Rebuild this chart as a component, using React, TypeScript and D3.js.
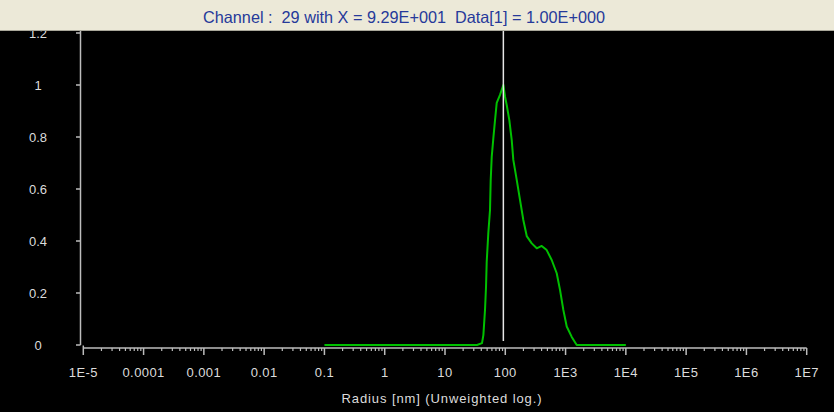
import React from "react";
import * as d3 from "d3";

// Size distribution: radius (nm) and normalised intensity
const radius = [0.1, 34.0, 41.1, 43.3, 46.1, 47.9, 49.2, 52.3, 55.8, 57.3, 59.6, 63.4, 67.6, 72.1, 81.8, 92.9, 99.1, 105.6, 116.7, 127.9, 135.9, 154.8, 175.5, 199.1, 226.8, 274.7, 332.5, 402, 486, 589, 713, 809, 918, 1045, 1265, 1531, 10000];
const intensity = [0, 0, 0.007, 0.038, 0.135, 0.223, 0.32, 0.431, 0.519, 0.635, 0.724, 0.796, 0.865, 0.931, 0.962, 1.0, 0.955, 0.923, 0.865, 0.788, 0.712, 0.635, 0.558, 0.481, 0.419, 0.391, 0.372, 0.381, 0.365, 0.327, 0.276, 0.212, 0.135, 0.071, 0.031, 0, 0];

const xTickValues = [1e-5, 1e-4, 1e-3, 1e-2, 1e-1, 1, 10, 100, 1e3, 1e4, 1e5, 1e6, 1e7];
const xTickLabels = ["1E-5", "0.0001", "0.001", "0.01", "0.1", "1", "10", "100", "1E3", "1E4", "1E5", "1E6", "1E7"];
const yTickValues = [0, 0.2, 0.4, 0.6, 0.8, 1, 1.2];
const yTickLabels = ["0", "0.2", "0.4", "0.6", "0.8", "1", "1.2"];

const cursorChannel = 29;
const cursorX = 92.9;
const cursorValue = 1.0;

const W = 834;
const H = 412;
const barH = 31;

export default function App() {
  const x = d3.scaleLog().domain([1e-5, 1e7]).range([83.3, 806.7]);
  const y = d3.scaleLinear().domain([0, 1.2]).range([345, 33]);

  const pts = radius.map((r, i) => [r, intensity[i]] as [number, number]);
  const line = d3
    .line<[number, number]>()
    .x((d) => x(d[0]))
    .y((d) => y(d[1]))(pts);

  const minor: number[] = [];
  for (let e = -5; e < 7; e++) {
    for (let k = 2; k <= 9; k++) minor.push(k * Math.pow(10, e));
  }

  const axisCol = "#bdbdbd";
  const textCol = "#dcdcdc";
  const font = "'Liberation Sans', Arial, sans-serif";
  const expFmt = (v: number) => {
    const e = Math.floor(Math.log10(v));
    const m = v / Math.pow(10, e);
    const sign = e < 0 ? "-" : "+";
    return `${m.toFixed(2)}E${sign}${String(Math.abs(e)).padStart(3, "0")}`;
  };
  const title = `Channel :  ${cursorChannel} with X = ${expFmt(cursorX)}  Data[1] = ${expFmt(cursorValue)}`;

  return (
    <svg
      width={W}
      height={H}
      style={{ position: "absolute", left: 0, top: 0, display: "block" }}
      fontFamily={font}
    >
      <rect x={0} y={0} width={W} height={H} fill="#000" />

      {/* y axis */}
      <line x1={80.5} x2={80.5} y1={barH} y2={y(0)} stroke={axisCol} strokeWidth={1.5} />
      {yTickValues.map((v, i) => (
        <g key={"y" + i}>
          <line x1={76} x2={80.5} y1={y(v)} y2={y(v)} stroke={axisCol} strokeWidth={1.5} />
          <text
            x={38}
            y={y(v)}
            dy="0.35em"
            textAnchor="middle"
            fontSize={13}
            fill={textCol}
          >
            {yTickLabels[i]}
          </text>
        </g>
      ))}

      {/* x axis */}
      <line x1={x(1e-5)} x2={x(1e7)} y1={348} y2={348} stroke={axisCol} strokeWidth={1.5} />
      <line x1={x(1e-5)} x2={x(1e-5)} y1={345.5} y2={348} stroke={axisCol} strokeWidth={1.5} />
      {minor.map((v, i) => (
        <line key={"m" + i} x1={x(v)} x2={x(v)} y1={348} y2={351} stroke={axisCol} strokeWidth={1.2} />
      ))}
      {xTickValues.map((v, i) => (
        <g key={"x" + i}>
          <line x1={x(v)} x2={x(v)} y1={348} y2={355} stroke={axisCol} strokeWidth={1.5} />
          <text x={x(v)} y={377} textAnchor="middle" fontSize={13} fill={textCol} letterSpacing={0.4}>
            {xTickLabels[i]}
          </text>
        </g>
      ))}
      <text x={442} y={403} textAnchor="middle" fontSize={13} fill={textCol} letterSpacing={0.9}>
        Radius [nm] (Unweighted log.)
      </text>

      {/* distribution curve */}
      <path d={line ?? ""} fill="none" stroke="#00c000" strokeWidth={2} strokeLinejoin="round" />

      {/* cursor */}
      <line
        x1={x(cursorX)}
        x2={x(cursorX)}
        y1={barH}
        y2={341}
        stroke="#e6e6e6"
        strokeWidth={1.5}
      />

      {/* status bar */}
      <rect x={0} y={0} width={W} height={barH} fill="#ece9d8" />
      <line x1={0} x2={W} y1={barH - 0.5} y2={barH - 0.5} stroke="#a9a79a" />
      <text
        x={404}
        y={23}
        textAnchor="middle"
        fontSize={16.5}
        fill="#26399a"
        textLength={402}
        lengthAdjust="spacingAndGlyphs"
        style={{ whiteSpace: "pre" }}
      >
        {title}
      </text>
    </svg>
  );
}
